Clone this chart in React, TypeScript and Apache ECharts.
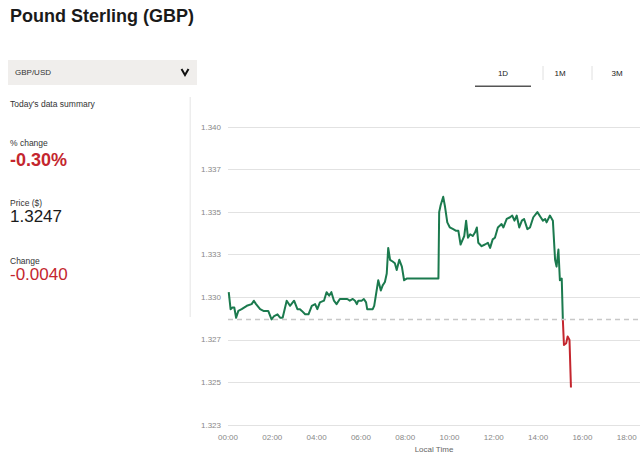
import React, { useEffect, useRef } from "react";
import * as echarts from "echarts";

// ---- data ----
const timeMinutes = [2,7,12,17,22,28,37,51,64,70,76,87,96,109,118,125,134,141,148,159,168,179,188,195,200,209,218,227,236,242,249,260,267,274,280,287,294,303,311,317,323,330,338,344,349,353,362,368,374,377,392,396,407,414,419,425,430,434,439,446,452,457,464,471,477,484,488,570,572,576,583,588,594,601,610,618,624,630,636,640,645,650,656,663,669,674,678,687,696,704,710,717,723,731,741,746,755,764,770,776,782,789,796,802,811,818,827,838,847,853,859,863,872,880,886,890,895,899,904,907,910,916,920,925,929];
const prices = [1.3303,1.3293,1.3294,1.3294,1.3288,1.3292,1.3293,1.3295,1.3296,1.3298,1.3296,1.3293,1.3292,1.3292,1.3287,1.3289,1.3290,1.3288,1.3288,1.3298,1.3295,1.3298,1.3293,1.3293,1.3292,1.3290,1.3290,1.3295,1.3296,1.3293,1.3297,1.3298,1.3303,1.3301,1.3303,1.3298,1.3296,1.3299,1.3299,1.3299,1.3299,1.3298,1.3299,1.3298,1.3296,1.3298,1.3298,1.3299,1.3297,1.3293,1.3293,1.3295,1.3310,1.3304,1.3307,1.3309,1.3314,1.3329,1.3322,1.3321,1.3320,1.3316,1.3322,1.3318,1.3310,1.3311,1.3311,1.3311,1.3350,1.3354,1.3359,1.3353,1.3344,1.3341,1.3340,1.3339,1.3339,1.3331,1.3334,1.3336,1.3345,1.3335,1.3337,1.3336,1.3338,1.3341,1.3332,1.3330,1.3331,1.3332,1.3329,1.3334,1.3335,1.3341,1.3343,1.3341,1.3346,1.3347,1.3348,1.3345,1.3348,1.3341,1.3345,1.3346,1.3340,1.3341,1.3347,1.3350,1.3347,1.3345,1.3346,1.3344,1.3348,1.3345,1.3322,1.3318,1.3328,1.3310,1.3311,1.3287,1.3272,1.3273,1.3277,1.3275,1.3247];
const previousClose = 1.3287;
const yTickLabels = ["1.323","1.325","1.327","1.330","1.333","1.335","1.337","1.340"];
const xTickLabels = ["00:00","02:00","04:00","06:00","08:00","10:00","12:00","14:00","16:00","18:00"];
const yMin = 1.3225;
const yMax = 1.34;
const yInterval = 0.0025;
const xInterval = 120;
const summary = { pair: "GBP/USD", pctChange: "-0.30%", price: "1.3247", change: "-0.0040" };
const tabs = ["1D", "1M", "3M"];

const FONT = "'Liberation Sans', Arial, Helvetica, sans-serif";
const GREEN = "#1b7a4e";
const RED = "#c4262e";

export default function App() {
  const ref = useRef<HTMLDivElement>(null);
  useEffect(() => {
    if (!ref.current) return;
    const chart = echarts.init(ref.current, null, { renderer: "svg" });
    const data = timeMinutes.map((t, i) => [t, prices[i]]);
    let crossIndex = 0;
    prices.forEach((p, i) => {
      if (p >= previousClose) crossIndex = i;
    });
    const greenData = data.slice(0, crossIndex + 1);
    const redData = data.slice(crossIndex);
    const small = (text: string, x: number, y: number, extra: any = {}) => ({
      type: "text",
      x,
      y,
      style: { text, fontSize: 8.5, fontFamily: FONT, fill: "#333", textVerticalAlign: "middle", ...extra },
    });
    chart.setOption({
      animation: false,
      backgroundColor: "#ffffff",
      grid: { left: 228, right: 0, top: 127, bottom: 28, outerBoundsMode: "none", containLabel: false },
      xAxis: {
        type: "value",
        min: 0,
        max: 1116,
        interval: xInterval,
        name: "Local Time",
        nameLocation: "middle",
        nameGap: 15,
        nameTextStyle: { color: "#666", fontSize: 8, fontFamily: FONT, lineHeight: 8 },
        axisLine: { show: false },
        axisTick: { show: false },
        splitLine: { show: false },
        axisLabel: {
          color: "#888",
          fontSize: 8,
          fontFamily: FONT,
          margin: 8,
          showMaxLabel: false,
          formatter: (v: number) => xTickLabels[Math.round(v / xInterval)] ?? "",
        },
      },
      yAxis: {
        type: "value",
        min: yMin,
        max: yMax,
        interval: yInterval,
        axisLine: { show: false },
        axisTick: { show: false },
        splitLine: { lineStyle: { color: "#e2e2e2", width: 1 } },
        axisLabel: {
          color: "#888",
          fontSize: 8,
          fontFamily: FONT,
          margin: 7,
          formatter: (v: number) => yTickLabels[Math.round((v - yMin) / yInterval)] ?? "",
        },
      },
      series: [
        {
          type: "line",
          data: greenData,
          showSymbol: false,
          symbol: "none",
          z: 3,
          lineStyle: { width: 2, color: GREEN, join: "round" },
          markLine: {
            silent: true,
            precision: 4,
            symbol: ["none", "none"],
            label: { show: false },
            lineStyle: { color: "#c8c8c8", type: [5, 4], width: 1.3 },
            data: [{ yAxis: previousClose }],
          },
        },
        {
          type: "line",
          data: redData,
          showSymbol: false,
          symbol: "none",
          z: 3,
          lineStyle: { width: 2, color: RED, join: "round" },
        },
      ],
      graphic: [
        {
          type: "text",
          x: 10,
          y: 16,
          style: { text: "Pound Sterling (GBP)", fontSize: 18, fontWeight: "bold", fontFamily: FONT, fill: "#1a1a1a", textVerticalAlign: "middle" },
        },
        { type: "rect", shape: { x: 8, y: 60, width: 189, height: 25 }, style: { fill: "#f0eeec" } },
        small(summary.pair, 15, 72.5, { fill: "#333", fontSize: 8 }),
        { type: "polyline", shape: { points: [[181.5, 69], [185, 75], [188.5, 69]] }, style: { stroke: "#111", lineWidth: 2, fill: "none" } },
        { type: "rect", shape: { x: 189.5, y: 97, width: 1.5, height: 220 }, style: { fill: "#ededed" } },
        small("Today's data summary", 10, 104),
        small("% change", 10, 143),
        { type: "text", x: 10, y: 160, style: { text: summary.pctChange, fontSize: 18, fontWeight: "bold", fontFamily: FONT, fill: RED, textVerticalAlign: "middle" } },
        small("Price ($)", 10, 203),
        { type: "text", x: 10, y: 216, style: { text: summary.price, fontSize: 17, fontFamily: FONT, fill: "#1a1a1a", textVerticalAlign: "middle" } },
        small("Change", 10, 261),
        { type: "text", x: 10, y: 274, style: { text: summary.change, fontSize: 17, fontFamily: FONT, fill: RED, textVerticalAlign: "middle" } },
        ...tabs.map((t, i) => ({
          type: "text",
          x: [503, 560, 617][i],
          y: 73,
          style: { text: t, fontSize: 8, fontFamily: FONT, fill: "#222", textAlign: "center", textVerticalAlign: "middle" },
        })),
        { type: "rect", shape: { x: 475, y: 85.5, width: 56, height: 1.5 }, style: { fill: "#555" } },
        { type: "line", shape: { x1: 543, y1: 66, x2: 543, y2: 80 }, style: { stroke: "#e0e0e0", lineWidth: 1 } },
        { type: "line", shape: { x1: 592, y1: 66, x2: 592, y2: 80 }, style: { stroke: "#e0e0e0", lineWidth: 1 } },
      ],
    });
    return () => chart.dispose();
  }, []);
  return (
    <div
      ref={ref}
      style={{ position: "absolute", left: 0, top: 0, width: 640, height: 453 }}
    />
  );
}
